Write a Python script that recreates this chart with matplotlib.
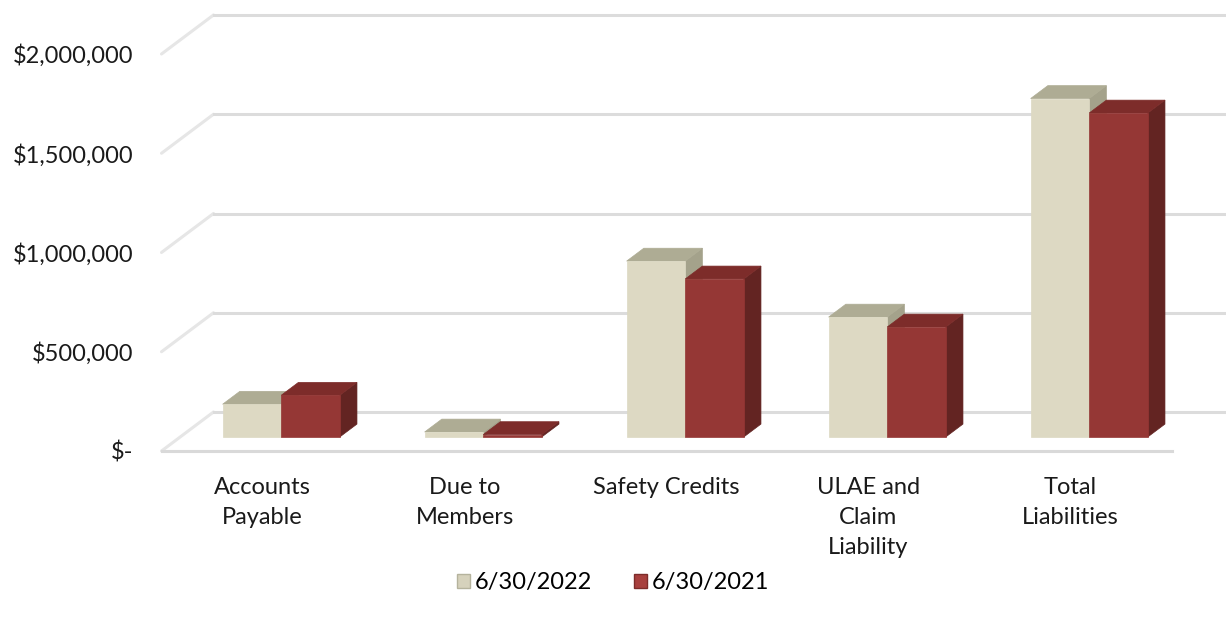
import matplotlib.pyplot as plt
from matplotlib.patches import Polygon, Patch
from matplotlib.ticker import FuncFormatter

categories = ["Accounts\nPayable", "Due to\nMembers", "Safety Credits",
              "ULAE and\nClaim\nLiability", "Total\nLiabilities"]
fy2022 = [165000, 25000, 886000, 604000, 1705000]
fy2021 = [210000, 12000, 796000, 554000, 1632000]
series_labels = ["6/30/2022", "6/30/2021"]
yticks = [0, 500000, 1000000, 1500000, 2000000]

plt.rcParams['font.family'] = ['Lato', 'DejaVu Sans']
FS = 17

W, H = 1226, 623
fig = plt.figure(figsize=(W / 100, H / 100), dpi=100)
ax = fig.add_axes([161.5 / W, (H - 451) / H, 1010 / W, (451 - 54) / H])
ax.set_xlim(-0.5, len(categories) - 0.5)
ax.set_ylim(0, 2000000)
ax.patch.set_visible(False)
for s in ax.spines.values():
    s.set_visible(False)

# oblique depth: back wall sits 52px right and 39px up from the front plane
SX = 52 / 202.0
SY = 39 / (397 / 2000000)


def proj(x, v, d):
    return x + d * SX, v + d * SY


# walls / gridlines
x_left, x_right = -0.5, len(categories) - 0.5
for t in yticks:
    xa, ya = proj(x_left, t, 0)
    xb, yb = proj(x_left, t, 1)
    xc, yc = proj(x_right, t, 1)
    ax.plot([xa, xb], [ya, yb], color='#E6E6E6', lw=2.2,
            solid_capstyle='round', clip_on=False, zorder=1)
    ax.plot([xb, xc], [yb, yc], color='#DCDCDC', lw=2.2,
            clip_on=False, zorder=1)
xa, ya = proj(x_left, 0, 0)
xb, yb = proj(x_right, 0, 0)
ax.plot([xa, xb], [ya, yb], color='#D9D9D9', lw=2.2, clip_on=False, zorder=1)

D0, D1 = 0.36, 0.69
BW = 0.29


def draw_bar(x0, x1, v, front, top, side):
    faces = [
        ([proj(x1, 0, D0), proj(x1, 0, D1), proj(x1, v, D1), proj(x1, v, D0)], side),
        ([proj(x0, v, D0), proj(x1, v, D0), proj(x1, v, D1), proj(x0, v, D1)], top),
        ([proj(x0, 0, D0), proj(x1, 0, D0), proj(x1, v, D0), proj(x0, v, D0)], front),
    ]
    for pts, c in faces:
        ax.add_patch(Polygon(pts, closed=True, facecolor=c, edgecolor=c,
                             lw=0.5, clip_on=False, zorder=3))


cream = ('#DDD9C3', '#AEAC94', '#A4A28B')
red = ('#953735', '#7D2C2A', '#632422')
for i in range(len(categories)):
    draw_bar(i - BW, i, fy2022[i], *cream)
    draw_bar(i, i + BW, fy2021[i], *red)

ax.set_xticks(range(len(categories)))
ax.set_xticklabels(categories, fontsize=FS, color='#1A1A1A', linespacing=1.55)
ax.set_yticks(yticks)
ax.yaxis.set_major_formatter(FuncFormatter(
    lambda v, p: '$-' if v == 0 else f'${v:,.0f}'))
ax.tick_params(axis='x', length=0, pad=18.5)
ax.tick_params(axis='y', length=0, pad=20.5, labelsize=FS, labelcolor='#1A1A1A')

handles = [Patch(facecolor='#D6D2BC', edgecolor='#B5B39D'),
           Patch(facecolor='#A8403E', edgecolor='#7D2C2A')]
fig.legend(handles, series_labels, loc='center', bbox_to_anchor=(0.5, 1 - 583 / H),
           ncol=2, frameon=False, fontsize=FS, handlelength=0.55, handleheight=0.55,
           handletextpad=0.2, columnspacing=1.8)

fig.savefig('out.png', dpi=100)
